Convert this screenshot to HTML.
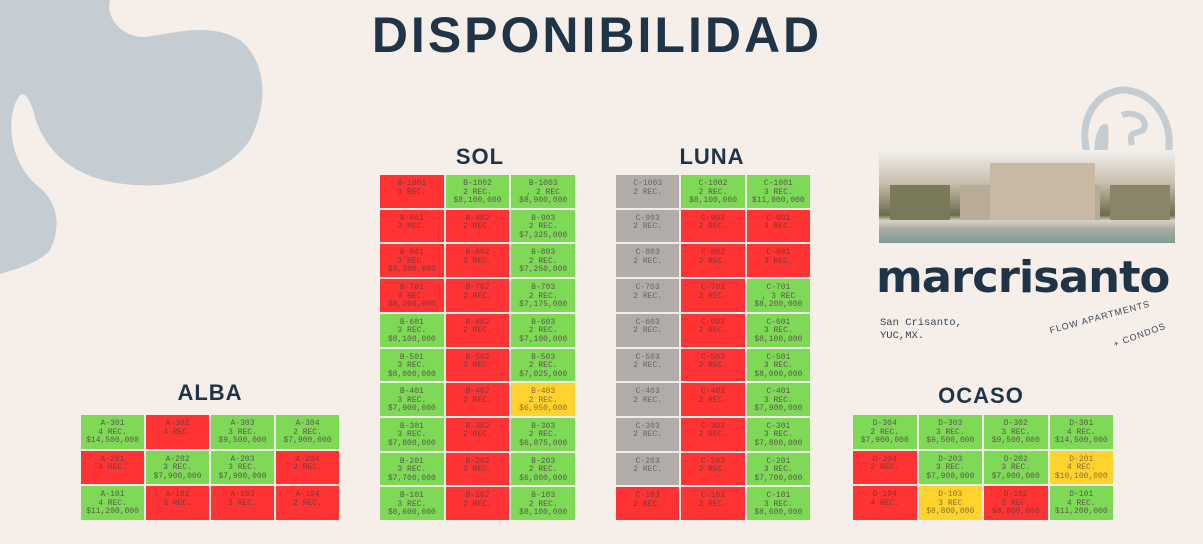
<!DOCTYPE html>
<html><head><meta charset="utf-8"><style>
body{margin:0;width:1203px;height:544px;background:#f5eee9;position:relative;overflow:hidden;font-family:"Liberation Sans",sans-serif}
.t{position:absolute;color:#1f3547;font-weight:900;font-family:"Liberation Sans",sans-serif;transform:translateX(-50%);white-space:nowrap}
.grid{position:absolute;display:grid;gap:2px;background:#f0ece8}
.grid div{font-family:"Liberation Mono","DejaVu Sans Mono",monospace;font-size:8px;line-height:8.5px;text-align:center;padding-top:5px;color:#5a5a4a;box-sizing:border-box;overflow:hidden}
.g{background:#7ed957}.r{background:#ff3333;color:#7a3a3a!important}.y{background:#ffd22e;color:#8a7030!important}.k{background:#b2aca8;color:#666!important}
</style></head><body>
<svg style="position:absolute;left:0;top:0" width="300" height="290"><path d="M0,0 L110,0 C105,20 125,38 145,37 C175,33 210,22 240,40 C265,60 270,100 250,140 C225,175 180,188 135,185 C85,182 45,160 33,110 C28,95 22,90 18,98 C5,120 10,165 40,188 C60,205 60,230 50,250 C40,262 20,268 0,274 Z" fill="#c5cdd2"/></svg>
<div class="t" style="left:597px;top:6px;font-size:50px;letter-spacing:3px">DISPONIBILIDAD</div>
<div class="t" style="left:480px;top:144px;font-size:22px;letter-spacing:1px">SOL</div>
<div class="t" style="left:712px;top:144px;font-size:22px;letter-spacing:1px">LUNA</div>
<div class="t" style="left:210px;top:380px;font-size:22px;letter-spacing:1px">ALBA</div>
<div class="t" style="left:981px;top:383px;font-size:22px;letter-spacing:1px">OCASO</div>

<div class="grid" style="left:81px;top:415px;width:258px;height:105px;grid-template-columns:repeat(4,1fr);grid-template-rows:repeat(3,1fr)">
<div class="g">A-301<br>4 REC.<br>$14,500,000</div><div class="r">A-302<br>4 REC.</div><div class="g">A-303<br>3 REC.<br>$9,500,000</div><div class="g">A-304<br>2 REC.<br>$7,900,000</div>
<div class="r">A-201<br>4 REC.</div><div class="g">A-202<br>3 REC.<br>$7,900,000</div><div class="g">A-203<br>3 REC.<br>$7,900,000</div><div class="r">A-204<br>2 REC.</div>
<div class="g">A-101<br>4 REC.<br>$11,200,000</div><div class="r">A-102<br>3 REC.</div><div class="r">A-103<br>3 REC.</div><div class="r">A-104<br>2 REC.</div>
</div>

<div class="grid" style="left:380px;top:175px;width:195px;height:345px;grid-template-columns:repeat(3,1fr);grid-template-rows:repeat(10,1fr)">
<div class="r">B-1001<br>3 REC.</div><div class="g">B-1002<br>2 REC.<br>$8,100,000</div><div class="g">B-1003<br>, 2 REC<br>$8,900,000</div>
<div class="r">B-901<br>3 REC.</div><div class="r">B-902<br>2 REC.</div><div class="g">B-903<br>2 REC.<br>$7,325,000</div>
<div class="r">B-801<br>3 REC.<br>$8,300,000</div><div class="r">B-802<br>2 REC.</div><div class="g">B-803<br>2 REC.<br>$7,250,000</div>
<div class="r">B-701<br>3 REC.<br>$8,200,000</div><div class="r">B-702<br>2 REC.</div><div class="g">B-703<br>2 REC.<br>$7,175,000</div>
<div class="g">B-601<br>3 REC.<br>$8,100,000</div><div class="r">B-602<br>2 REC.</div><div class="g">B-603<br>2 REC.<br>$7,100,000</div>
<div class="g">B-501<br>3 REC.<br>$8,000,000</div><div class="r">B-502<br>2 REC.</div><div class="g">B-503<br>2 REC.<br>$7,025,000</div>
<div class="g">B-401<br>3 REC.<br>$7,900,000</div><div class="r">B-402<br>2 REC.</div><div class="y">B-403<br>2 REC.<br>$6,950,000</div>
<div class="g">B-301<br>3 REC.<br>$7,800,000</div><div class="r">B-302<br>2 REC.</div><div class="g">B-303<br>2 REC.<br>$6,875,000</div>
<div class="g">B-201<br>3 REC.<br>$7,700,000</div><div class="r">B-202<br>2 REC.</div><div class="g">B-203<br>2 REC.<br>$6,800,000</div>
<div class="g">B-101<br>3 REC.<br>$8,600,000</div><div class="r">B-102<br>2 REC.</div><div class="g">B-103<br>2 REC.<br>$8,100,000</div>
</div>

<div class="grid" style="left:616px;top:175px;width:194px;height:345px;grid-template-columns:repeat(3,1fr);grid-template-rows:repeat(10,1fr)">
<div class="k">C-1003<br>2 REC.</div><div class="g">C-1002<br>2 REC.<br>$8,100,000</div><div class="g">C-1001<br>3 REC.<br>$11,000,000</div>
<div class="k">C-903<br>2 REC.</div><div class="r">C-902<br>2 REC.</div><div class="r">C-901<br>3 REC.</div>
<div class="k">C-803<br>2 REC.</div><div class="r">C-802<br>2 REC.</div><div class="r">C-801<br>3 REC.</div>
<div class="k">C-703<br>2 REC.</div><div class="r">C-702<br>2 REC.</div><div class="g">C-701<br>, 3 REC<br>$8,200,000</div>
<div class="k">C-603<br>2 REC.</div><div class="r">C-602<br>2 REC.</div><div class="g">C-601<br>3 REC.<br>$8,100,000</div>
<div class="k">C-503<br>2 REC.</div><div class="r">C-502<br>2 REC.</div><div class="g">C-501<br>3 REC.<br>$8,000,000</div>
<div class="k">C-403<br>2 REC.</div><div class="r">C-402<br>2 REC.</div><div class="g">C-401<br>3 REC.<br>$7,900,000</div>
<div class="k">C-303<br>2 REC.</div><div class="r">C-302<br>2 REC.</div><div class="g">C-301<br>3 REC.<br>$7,800,000</div>
<div class="k">C-203<br>2 REC.</div><div class="r">C-202<br>2 REC.</div><div class="g">C-201<br>3 REC.<br>$7,700,000</div>
<div class="r">C-103<br>2 REC.</div><div class="r">C-102<br>2 REC.</div><div class="g">C-101<br>3 REC.<br>$8,600,000</div>
</div>

<div class="grid" style="left:853px;top:415px;width:260px;height:105px;grid-template-columns:repeat(4,1fr);grid-template-rows:repeat(3,1fr)">
<div class="g">D-304<br>2 REC.<br>$7,900,000</div><div class="g">D-303<br>3 REC.<br>$9,500,000</div><div class="g">D-302<br>3 REC.<br>$9,500,000</div><div class="g">D-301<br>4 REC.<br>$14,500,000</div>
<div class="r">D-204<br>2 REC.</div><div class="g">D-203<br>3 REC.<br>$7,900,000</div><div class="g">D-202<br>3 REC.<br>$7,900,000</div><div class="y">D-201<br>4 REC.<br>$10,100,000</div>
<div class="r">D-104<br>4 REC.</div><div class="y">D-103<br>3 REC<br>$8,800,000</div><div class="r">D-102<br>3 REC.<br>$8,800,000</div><div class="g">D-101<br>4 REC.<br>$11,200,000</div>
</div>

<svg style="position:absolute;left:860px;top:85px" width="330" height="180">
<path d="M228,70 C218,40 232,8 262,5 C295,5 318,40 306,78" fill="none" stroke="#c5cdd2" stroke-width="7"/>
<path d="M235,80 C232,50 240,35 248,40 C250,60 246,75 245,80 Z" fill="#c5cdd2"/>
<path d="M262,30 C275,25 290,35 283,45 C275,50 268,45 272,60" fill="none" stroke="#c5cdd2" stroke-width="6"/>
<defs><linearGradient id="s" x1="0" y1="0" x2="0" y2="1"><stop offset="0" stop-color="#f3f0ec"/><stop offset="0.35" stop-color="#c9bfae"/><stop offset="0.7" stop-color="#6a6a4c"/><stop offset="0.76" stop-color="#d8d2c6"/><stop offset="0.85" stop-color="#a8aba2"/><stop offset="1" stop-color="#7e9a98"/></linearGradient></defs>
<rect x="19" y="65" width="296" height="93" fill="url(#s)"/>
<rect x="100" y="100" width="140" height="35" fill="#b8ab98"/>
<rect x="130" y="78" width="105" height="57" fill="#c8b9a4"/>
<rect x="30" y="100" width="60" height="35" fill="#7a7a5a"/>
<rect x="250" y="100" width="60" height="35" fill="#8a8468"/>
</svg>
<div style="position:absolute;left:876px;top:252px;font-family:'DejaVu Sans',sans-serif;font-weight:bold;font-size:44px;color:#1f3547;letter-spacing:-1px;transform:scaleX(1.02);transform-origin:left">marcrisanto</div>
<div style="position:absolute;left:880px;top:317px;font-family:'Liberation Mono',monospace;font-size:10.5px;line-height:13px;color:#3a4550">San Crisanto,<br>YUC,MX.</div>
<div style="position:absolute;left:1048px;top:312px;font-size:9px;color:#3a4550;transform:rotate(-15deg);letter-spacing:1px">FLOW APARTMENTS</div>
<div style="position:absolute;left:1112px;top:330px;font-size:9px;color:#3a4550;transform:rotate(-20deg);letter-spacing:1px">+ CONDOS</div>
</body></html>
